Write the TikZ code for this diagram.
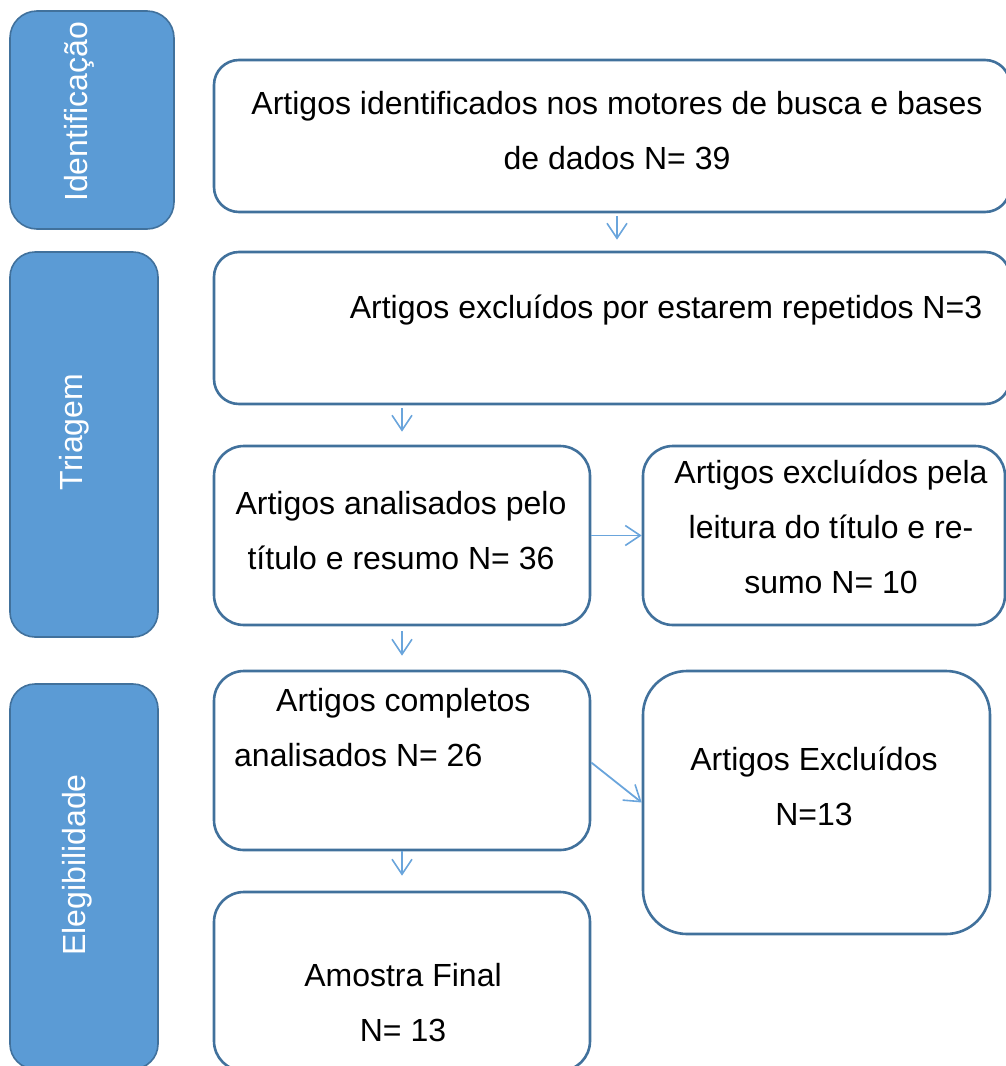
\documentclass[tikz,border=0pt]{standalone}
\usepackage{fontspec}
\setmainfont{Liberation Sans}
\usetikzlibrary{arrows.meta,calc}
\definecolor{accent}{HTML}{5B9BD5}
\definecolor{edge}{HTML}{41719C}
\definecolor{arrowc}{HTML}{6AA5DC}
\begin{document}
\begin{tikzpicture}[x=1pt,y=-1pt,
  stage/.style={draw=edge,line width=1.6pt,fill=accent,rectangle,inner sep=0pt},
  wbox/.style={draw=edge,line width=2.6pt,fill=white,rectangle,inner sep=0pt},
  stagetext/.style={text=white,rotate=90,font=\fontsize{32}{38}\selectfont,inner sep=0pt},
  boxtext/.style={font=\fontsize{32}{55}\selectfont,align=center,inner sep=0pt},
  arr/.style={draw=arrowc,line width=1.8pt,-{Straight Barb[length=15pt,width=20pt,line width=1.6pt]}}]
\useasboundingbox (0,0) rectangle (1006,1066);
\clip (0,0) rectangle (1006,1066);
% stage boxes
\node[stage,rounded corners=27pt,minimum width=164pt,minimum height=218pt] (s1) at (92,120) {};
\node[stage,rounded corners=25pt,minimum width=148pt,minimum height=385pt] (s2) at (84,444.5) {};
\node[stage,rounded corners=25pt,minimum width=148pt,minimum height=385pt] (s3) at (84,876.5) {};
\node[stagetext] (l1) at (79,112) {Identificação};
\node[stagetext] (l2) at (74,432) {Triagem};
\node[stagetext] (l3) at (77,865) {Elegibilidade};
% white boxes
\node[wbox,rounded corners=25pt,minimum width=796pt,minimum height=152pt] (b1) at (612,136) {};
\node[wbox,rounded corners=25pt,minimum width=796pt,minimum height=152pt] (b2) at (612,328) {};
\node[wbox,rounded corners=30pt,minimum width=376pt,minimum height=179pt] (b3) at (402,535.5) {};
\node[wbox,rounded corners=30pt,minimum width=362pt,minimum height=179pt] (b4) at (824,535.5) {};
\node[wbox,rounded corners=30pt,minimum width=376pt,minimum height=179pt] (b5) at (402,760.5) {};
\node[wbox,rounded corners=44pt,minimum width=347pt,minimum height=263pt] (b6) at (816.5,802.5) {};
\node[wbox,rounded corners=30pt,minimum width=376pt,minimum height=179pt] (b7) at (402,981.5) {};
% texts
\node[boxtext] (t1) at (617,130.5) {Artigos identificados nos motores de busca e bases\\de dados N= 39};
\node[boxtext] (t2) at (666,310) {Artigos excluídos por estarem repetidos N=3};
\node[boxtext] (t3) at (401,531) {Artigos analisados pelo\\título e resumo N= 36};
\node[boxtext] (t4) at (831,527) {Artigos excluídos pela\\leitura do título e re-\\sumo N= 10};
\node[boxtext,align=left,anchor=west] (t5) at (234,727.5) {\hspace*{42pt}Artigos completos\\analisados N= 26};
\node[boxtext] (t6) at (814,786.5) {Artigos Excluídos\\N=13};
\node[boxtext] (t7) at (403,1002.5) {Amostra Final\\N= 13};
% arrows
\draw[arr] ([xshift=5pt,yshift=-3pt]b1.south) -- ([xshift=5pt,yshift=11pt]b2.north);
\draw[arr,shorten <=3pt,shorten >=13pt] (b2.south -| b3.north) -- (b3.north);
\draw[arr,shorten <=5pt,shorten >=14pt] (b3.south) -- (b5.north);
\draw[arr,shorten >=15pt] (b5.south) -- (b7.north);
\draw[arr] (b3.east) -- (b4.west);
\draw[arr] ([yshift=-2pt]b5.east) -- (b6.west);
\end{tikzpicture}
\end{document}
